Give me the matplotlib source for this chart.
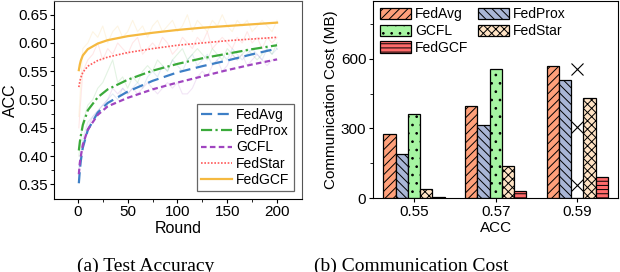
import numpy as np
import matplotlib
matplotlib.use("Agg")
import matplotlib.pyplot as plt

plt.rcParams['font.family'] = ['Liberation Sans', 'DejaVu Sans']
plt.rcParams['hatch.linewidth'] = 0.7

# ---- (a) test accuracy: smoothed curves ----
rounds = [1, 2, 3, 5, 10, 20, 30, 50, 75, 100, 125, 150, 175, 200]
acc_fedavg = [0.352, 0.375, 0.392, 0.415, 0.446, 0.477, 0.494, 0.514, 0.533, 0.548, 0.559, 0.569, 0.580, 0.590]
acc_fedprox = [0.410, 0.425, 0.436, 0.455, 0.481, 0.504, 0.518, 0.535, 0.551, 0.563, 0.573, 0.581, 0.589, 0.596]
acc_gcfl = [0.368, 0.388, 0.400, 0.420, 0.447, 0.473, 0.488, 0.503, 0.518, 0.530, 0.541, 0.552, 0.562, 0.571]
acc_fedstar = [0.522, 0.532, 0.539, 0.548, 0.559, 0.569, 0.575, 0.583, 0.590, 0.596, 0.600, 0.604, 0.607, 0.610]
acc_fedgcf = [0.552, 0.562, 0.569, 0.578, 0.589, 0.599, 0.605, 0.612, 0.618, 0.623, 0.627, 0.630, 0.633, 0.636]

# raw (unsmoothed) curves drawn faintly behind
raw_rounds = [1] + list(range(5, 201, 5))
raw_fedavg = [0.38, 0.43, 0.46, 0.47, 0.48, 0.49, 0.50, 0.51, 0.50, 0.52, 0.51, 0.52, 0.53, 0.52, 0.54, 0.55, 0.54,
              0.56, 0.55, 0.57, 0.56, 0.55, 0.57, 0.58, 0.56, 0.57, 0.58, 0.56, 0.57, 0.58, 0.57, 0.59, 0.58, 0.57,
              0.58, 0.59, 0.58, 0.57, 0.59, 0.58, 0.59]
raw_fedprox = [0.40, 0.46, 0.49, 0.50, 0.52, 0.53, 0.55, 0.57, 0.53, 0.54, 0.52, 0.54, 0.53, 0.55, 0.56, 0.55, 0.57,
               0.56, 0.55, 0.57, 0.58, 0.59, 0.57, 0.58, 0.59, 0.58, 0.57, 0.59, 0.58, 0.57, 0.59, 0.58, 0.57, 0.58,
               0.59, 0.58, 0.57, 0.58, 0.59, 0.58, 0.60]
raw_gcfl = [0.37, 0.42, 0.45, 0.47, 0.48, 0.49, 0.50, 0.52, 0.51, 0.52, 0.51, 0.52, 0.51, 0.52, 0.53, 0.52, 0.51,
            0.52, 0.53, 0.52, 0.53, 0.51, 0.51, 0.52, 0.54, 0.55, 0.54, 0.56, 0.57, 0.55, 0.56, 0.58, 0.57, 0.58,
            0.56, 0.57, 0.58, 0.57, 0.56, 0.57, 0.57]
raw_fedstar = [0.45, 0.55, 0.57, 0.58, 0.60, 0.57, 0.59, 0.58, 0.60, 0.59, 0.58, 0.60, 0.61, 0.58, 0.59, 0.60, 0.59,
               0.61, 0.60, 0.58, 0.59, 0.61, 0.60, 0.59, 0.61, 0.60, 0.62, 0.59, 0.60, 0.61, 0.60, 0.59, 0.61, 0.60,
               0.62, 0.60, 0.61, 0.59, 0.61, 0.60, 0.61]
raw_fedgcf = [0.47, 0.59, 0.60, 0.62, 0.61, 0.63, 0.60, 0.62, 0.63, 0.61, 0.62, 0.64, 0.62, 0.63, 0.61, 0.63, 0.64,
              0.62, 0.63, 0.64, 0.62, 0.63, 0.65, 0.62, 0.64, 0.63, 0.62, 0.64, 0.63, 0.65, 0.63, 0.62, 0.64, 0.63,
              0.64, 0.62, 0.63, 0.64, 0.63, 0.62, 0.64]

# ---- (b) communication cost (MB) to reach target accuracy ----
acc_targets = ['0.55', '0.57', '0.59']
cost_fedavg = [275, 398, 570]
cost_fedprox = [190, 313, 507]
cost_gcfl = [361, 557, 0]      # did not reach 0.59
cost_fedstar = [40, 138, 433]
cost_fedgcf = [5, 31, 90]
missing_marks = [555, 305, 57]

methods = ['FedAvg', 'FedProx', 'GCFL', 'FedStar', 'FedGCF']
line_colors = ['#3d7fc6', '#3aaa3a', '#a045c0', '#ff5a5a', '#f5b940']
line_styles = [(0, (5, 2.5)), (0, (5, 1.5, 1, 1.5)), (0, (2.5, 1.5)), (0, (1, 1)), '-']
bar_colors = ['#ffa07a', '#a9b6d6', '#a6f5a2', '#ffe3c4', '#ff6b6b']
bar_hatches = ['////', '\\\\\\\\', '..', 'xxxx', '----']

fig = plt.figure(figsize=(6.2, 2.72), dpi=100)

# left panel
ax1 = fig.add_axes([0.087, 0.268, 0.400, 0.730])
smooth = [acc_fedavg, acc_fedprox, acc_gcfl, acc_fedstar, acc_fedgcf]
raw = [raw_fedavg, raw_fedprox, raw_gcfl, raw_fedstar, raw_fedgcf]
for i in range(5):
    ax1.plot(raw_rounds, raw[i], color=line_colors[i], alpha=0.14, linewidth=0.8)
for i in range(5):
    lw = 1.2 if i == 3 else 1.6
    ax1.plot(rounds, smooth[i], color=line_colors[i], linestyle=line_styles[i], linewidth=lw, label=methods[i])

ax1.set_xlim(-24, 225)
ax1.set_ylim(0.324, 0.675)
ax1.set_xticks([0, 50, 100, 150, 200])
ax1.set_xticks([25, 75, 125, 175], minor=True)
ax1.set_yticks([0.35, 0.40, 0.45, 0.50, 0.55, 0.60, 0.65])
ax1.set_yticks([0.375, 0.425, 0.475, 0.525, 0.575, 0.625], minor=True)
ax1.tick_params(labelsize=11, direction='out', length=3, pad=1.5)
ax1.tick_params(which='minor', direction='out', length=2)
ax1.set_xlabel('Round', fontsize=11.5, labelpad=1)
ax1.set_ylabel('ACC', fontsize=11.5, labelpad=0)
for s in ['top', 'right']:
    ax1.spines[s].set_color('#555555')
leg1 = ax1.legend(loc='lower right', fontsize=10, handlelength=2.2, labelspacing=0.15,
                  handletextpad=0.3, borderpad=0.3, borderaxespad=0.6, fancybox=False, framealpha=1)
leg1.get_frame().set_edgecolor('#666666')
leg1.get_frame().set_linewidth(0.9)

# right panel
ax2 = fig.add_axes([0.602, 0.271, 0.395, 0.727])
x = np.arange(len(acc_targets))
w = 0.15
costs = [cost_fedavg, cost_fedprox, cost_gcfl, cost_fedstar, cost_fedgcf]
bars = []
for i in range(5):
    b = ax2.bar(x + (i - 2) * w, costs[i], width=w, color=bar_colors[i], edgecolor='black',
                linewidth=0.9, hatch=bar_hatches[i], label=methods[i])
    bars.append(b)
ax2.plot([x[2]] * len(missing_marks), missing_marks, linestyle='none', marker='x',
         markersize=8, markeredgewidth=0.8, color='black')

ax2.set_xlim(-0.5, 2.5)
ax2.set_ylim(0, 850)
ax2.set_xticks(x)
ax2.set_xticklabels(acc_targets)
ax2.set_yticks([0, 300, 600])
ax2.set_yticks([150, 450, 750], minor=True)
ax2.tick_params(labelsize=11, direction='out', length=3, pad=2)
ax2.tick_params(which='minor', direction='out', length=2)
ax2.set_xlabel('ACC', fontsize=11, labelpad=1)
ax2.set_ylabel('Communication Cost (MB)', fontsize=11, labelpad=2)
order = [0, 2, 4, 1, 3]
ax2.legend([bars[i] for i in order], [methods[i] for i in order], loc='upper left', ncol=2,
           fontsize=10, frameon=False, handlelength=2.2, handleheight=0.9, labelspacing=0.2,
           handletextpad=0.3, columnspacing=0.7, borderaxespad=0.3, borderpad=0.2)

# captions (cut off at the bottom, as in the source)
fig.text(0.235, 0.052, '(a) Test Accuracy', fontsize=14, family='Liberation Serif', ha='center', va='top')
fig.text(0.663, 0.052, '(b) Communication Cost', fontsize=14, family='Liberation Serif', ha='center', va='top')

fig.savefig('out.png', dpi=100)
